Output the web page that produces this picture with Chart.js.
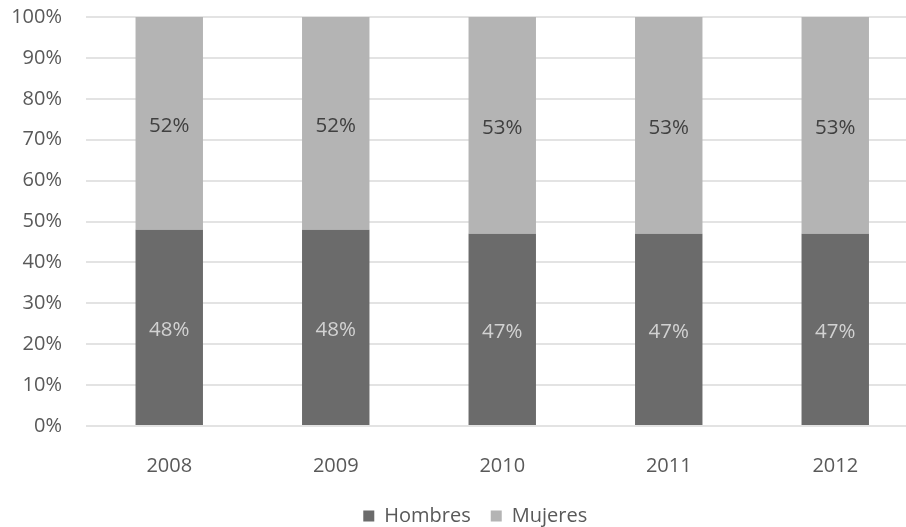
<!DOCTYPE html>
<html>
<head>
<meta charset="utf-8">
<script src="https://cdn.jsdelivr.net/npm/chart.js@4.4.0/dist/chart.umd.min.js"></script>
<style>
  html, body { margin: 0; padding: 0; background: #fff; overflow: hidden; }
  #wrap { width: 940px; height: 527px; position: relative; }
</style>
</head>
<body>
<div id="wrap"><canvas id="c"></canvas></div>
<script>
const categories = ["2008", "2009", "2010", "2011", "2012"];
const hombres = [48, 48, 47, 47, 47];
const mujeres = [52, 52, 53, 53, 53];
const yTicks = [0, 10, 20, 30, 40, 50, 60, 70, 80, 90, 100];

const FONT = "'Open Sans', 'Liberation Sans', sans-serif";

const barLabels = {
  id: 'barLabels',
  afterDatasetsDraw(chart) {
    const ctx = chart.ctx;
    ctx.save();
    ctx.font = "20.5px " + FONT;
    ctx.textAlign = 'center';
    ctx.textBaseline = 'middle';
    chart.data.datasets.forEach((ds, i) => {
      const meta = chart.getDatasetMeta(i);
      meta.data.forEach((bar, j) => {
        const props = bar.getProps(['x', 'y', 'base'], true);
        const yc = (props.y + props.base) / 2 + 3;
        ctx.fillStyle = ds.labelColor;
        ctx.fillText(ds.data[j] + '%', props.x, yc);
      });
    });
    ctx.restore();
  }
};

const legendShift = {
  id: 'legendShift',
  afterLayout(chart) {
    const l = chart.legend;
    if (l) { l.left += 14; l.right += 14; }
  }
};

new Chart(document.getElementById('c'), {
  type: 'bar',
  data: {
    labels: categories,
    datasets: [
      { label: 'Hombres', data: hombres, backgroundColor: '#6b6b6b', labelColor: '#d2d2d2',
        barPercentage: 0.405, categoryPercentage: 1.0 },
      { label: 'Mujeres', data: mujeres, backgroundColor: '#b4b4b4', labelColor: '#404040',
        barPercentage: 0.405, categoryPercentage: 1.0 }
    ]
  },
  options: {
    responsive: true,
    maintainAspectRatio: false,
    animation: false,
    layout: { padding: { left: 4, right: 21.5, top: 17, bottom: -9 } },
    scales: {
      x: {
        stacked: true,
        grid: { display: false, drawTicks: false },
        border: { display: false },
        ticks: { color: '#595959', font: { family: FONT, size: 20 }, padding: 28 },
        afterFit: (axis) => { axis.height -= 20; }
      },
      y: {
        stacked: true,
        min: 0, max: 100,
        afterBuildTicks: (axis) => { axis.ticks = yTicks.map(v => ({ value: v })); },
        afterFit: (axis) => { axis.width = 82; axis.paddingTop = 0; axis.paddingBottom = 0; },
        grid: { color: '#e3e3e3', lineWidth: 2, drawTicks: false },
        border: { display: false },
        ticks: { color: '#595959', font: { family: FONT, size: 20 }, padding: 24,
                 callback: (v) => v + '%' }
      }
    },
    plugins: {
      legend: {
        position: 'bottom',
        labels: { color: '#595959', font: { family: FONT, size: 20 }, boxWidth: 11, boxHeight: 11, padding: 20 }
      },
      tooltip: { enabled: false }
    }
  },
  plugins: [barLabels, legendShift]
});
</script>
</body>
</html>
